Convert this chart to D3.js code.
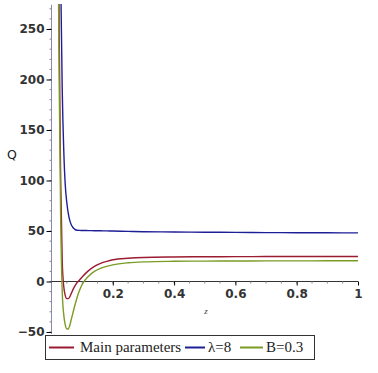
<!DOCTYPE html>
<html>
<head>
<meta charset="utf-8">
<script src="https://cdn.jsdelivr.net/npm/d3@7"></script>
<style>
  body { margin: 0; background: #fff; }
  .tick text { font-family: "DejaVu Sans", sans-serif; font-size: 12px; font-weight: bold; fill: #333; }
</style>
</head>
<body>
<script>
// data
var zMain = [0.02, 0.025, 0.03, 0.035, 0.04, 0.045, 0.05, 0.055, 0.06, 0.065, 0.07, 0.075, 0.08, 0.09, 0.1, 0.12, 0.14, 0.16, 0.18, 0.2, 0.25, 0.3, 0.4, 0.5, 0.6, 0.7, 0.8, 0.9, 1.0];
var qMain = [600, 250, 100, 20, -5, -14, -17, -17, -15, -11.5, -8, -5, -2.5, 1, 4.5, 10.5, 15, 18, 20, 21.5, 23, 23.8, 24.3, 24.5, 24.6, 24.7, 24.7, 24.7, 24.7];
var qLambda = [900, 500, 300, 190, 130, 95, 78, 67, 60, 56, 53.5, 52, 51, 50.6, 50.5, 50.4, 50.3, 50.2, 50.1, 50, 49.6, 49.3, 49, 48.8, 48.6, 48.4, 48.3, 48.2, 48.1];
var qB = [400, 200, 60, -10, -33, -43, -47, -47, -43, -37, -31, -25, -19.5, -10, -3, 5, 10, 13, 15, 16.5, 18.5, 19.4, 20, 20.2, 20.3, 20.4, 20.4, 20.5, 20.5];
var seriesNames = ["Main parameters", "\u03bb=8", "B=0.3"];
var xTicks = [0.2, 0.4, 0.6, 0.8, 1];
var yTicks = [-50, 0, 50, 100, 150, 200, 250];

var width = 378, height = 373;
var colors = ["#9b1b30", "#1e1e96", "#7b9b25"];

var svg = d3.select("body").append("svg")
    .attr("width", width)
    .attr("height", height);

var xScale = d3.scaleLinear().domain([0, 1]).range([51.5, 358]);
var yScale = d3.scaleLinear().domain([-50, 250]).range([332, 29]);

// y axis with minor ticks
var yAxisG = svg.append("g")
    .attr("transform", "translate(" + xScale(0) + ",0)");
yAxisG.append("line")
    .attr("y1", yScale(274)).attr("y2", yScale(-52))
    .attr("stroke", "#8a8aa8").attr("stroke-width", 1);
yAxisG.selectAll(".minor")
    .data(d3.range(-50, 271, 10))
    .enter().append("line")
    .attr("x1", -2).attr("x2", 0)
    .attr("y1", function (d) { return yScale(d); })
    .attr("y2", function (d) { return yScale(d); })
    .attr("stroke", "#888");
var yAxis = d3.axisLeft(yScale).tickValues(yTicks).tickSize(5).tickPadding(2);
yAxisG.append("g").call(yAxis).call(function (g) { g.select(".domain").remove(); });

// x axis at Q = 0
var xAxisG = svg.append("g")
    .attr("transform", "translate(0," + yScale(0) + ")");
xAxisG.append("line")
    .attr("x1", xScale(0)).attr("x2", xScale(1))
    .attr("stroke", "#333").attr("stroke-width", 1);
xAxisG.selectAll(".minor")
    .data(d3.range(0.05, 1.0, 0.05))
    .enter().append("line")
    .attr("x1", function (d) { return xScale(d); })
    .attr("x2", function (d) { return xScale(d); })
    .attr("y1", 0).attr("y2", 2)
    .attr("stroke", "#888");
var xAxis = d3.axisBottom(xScale).tickValues(xTicks).tickSize(4).tickPadding(4)
    .tickFormat(function (d) { return d === 1 ? "1" : d3.format(".1f")(d); });
xAxisG.append("g").call(xAxis).call(function (g) { g.select(".domain").remove(); });

// axis titles
svg.append("text")
    .attr("x", 12).attr("y", 159)
    .attr("text-anchor", "middle")
    .style("font-family", "DejaVu Sans, sans-serif")
    .style("font-size", "12.5px")
    .attr("fill", "#222")
    .text("Q");
svg.append("text")
    .attr("x", 206).attr("y", 314)
    .attr("text-anchor", "middle")
    .style("font-family", "Liberation Serif, serif")
    .style("font-style", "italic")
    .style("font-size", "9px")
    .attr("fill", "#444")
    .text("z");

// curves
svg.append("clipPath").attr("id", "clip")
    .append("rect")
    .attr("x", xScale(0)).attr("y", 4)
    .attr("width", xScale(1) - xScale(0)).attr("height", 340);

var line = d3.line()
    .x(function (d) { return xScale(d[0]); })
    .y(function (d) { return yScale(d[1]); })
    .curve(d3.curveMonotoneX);

var allSeries = [qMain, qLambda, qB];
var plot = svg.append("g").attr("clip-path", "url(#clip)");
allSeries.forEach(function (vals, i) {
    plot.append("path")
        .datum(zMain.map(function (z, j) { return [z, vals[j]]; }))
        .attr("fill", "none")
        .attr("stroke", colors[i])
        .attr("stroke-width", 1.4)
        .attr("d", line);
});

// legend
var legend = svg.append("g");
legend.append("rect")
    .attr("x", 45.5).attr("y", 335.5)
    .attr("width", 269).attr("height", 24)
    .attr("fill", "#fff").attr("stroke", "#333");
var legendX = [[49, 74, 80], [185, 205, 208], [240, 263, 266]];
seriesNames.forEach(function (name, i) {
    legend.append("line")
        .attr("x1", legendX[i][0]).attr("x2", legendX[i][1])
        .attr("y1", 347.5).attr("y2", 347.5)
        .attr("stroke", colors[i]).attr("stroke-width", 2);
    legend.append("text")
        .attr("x", legendX[i][2]).attr("y", 352)
        .style("font-family", "Liberation Serif, serif")
        .style("font-size", "15px")
        .attr("fill", "#222")
        .text(name);
});
</script>
</body>
</html>
